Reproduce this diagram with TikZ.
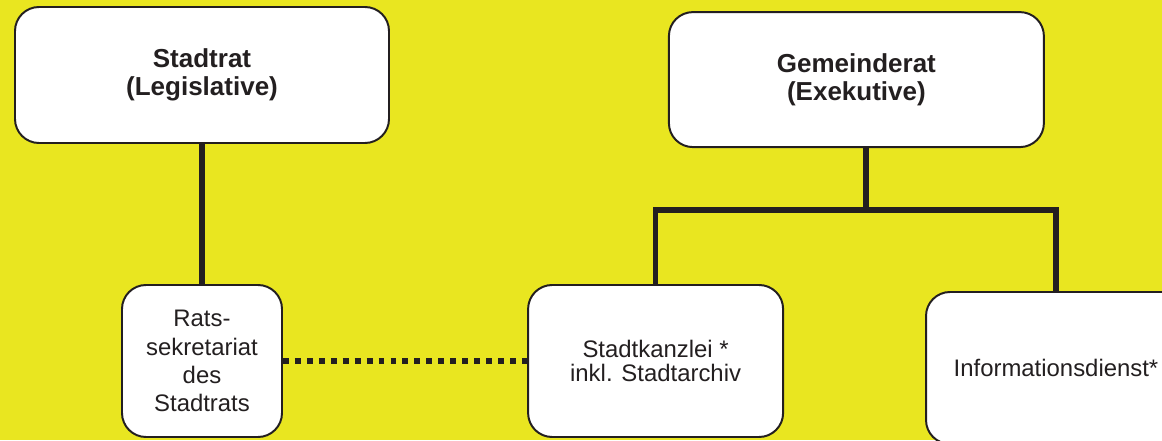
\documentclass[tikz,border=0pt]{standalone}
\usepackage{fontspec}
\setmainfont{Liberation Sans}
\definecolor{bgyellow}{RGB}{233,230,32}
\definecolor{inkblack}{RGB}{35,31,32}
\tikzset{
  unitbox/.style={draw=inkblack, line width=1.4pt, fill=white, rounded corners=0.6cm,
    align=center, inner sep=0pt, text=inkblack, font=\fontsize{17}{20}\selectfont},
  headbox/.style={unitbox, font=\bfseries\fontsize{18.5}{19.5}\selectfont},
  conn/.style={draw=inkblack, line width=4pt},
  dotline/.style={draw=inkblack, line width=4pt, dash pattern=on 4.2pt off 4.3pt}
}

\begin{document}
\begin{tikzpicture}
\useasboundingbox (0,0) rectangle (29.05,11);
\fill[bgyellow] (0,0) rectangle (29.05,11);

\node[headbox, minimum width=9.35cm, minimum height=3.4cm] (stadtrat) at (5.05,9.125) {Stadtrat\\(Legislative)};
\node[headbox, minimum width=9.375cm, minimum height=3.375cm] (gemeinderat) at (21.41,9.01) {Gemeinderat\\(Exekutive)};
\node[unitbox, minimum width=4cm, minimum height=3.8cm] (rats) at (5.05,1.975) {Rats-\\sekretariat\\des\\Stadtrats};
\node[unitbox, minimum width=6.375cm, minimum height=3.8cm, font=\fontsize{17}{17.5}\selectfont] (kanzlei) at (16.39,1.975) {Stadtkanzlei *\\inkl. Stadtarchiv};
\node[unitbox, minimum width=6.5cm, minimum height=3.8cm] (info) at (26.4,1.8) {Informationsdienst*};
\coordinate (fork) at (21.65,5.75);

\draw[conn] (stadtrat) -- (rats);
\draw[conn] (gemeinderat.south -| fork) -- (fork);
\draw[conn] (kanzlei.north) |- (fork) -| (info.north);
\draw[dotline] (rats.east) -- (kanzlei.west);
\end{tikzpicture}
\end{document}
